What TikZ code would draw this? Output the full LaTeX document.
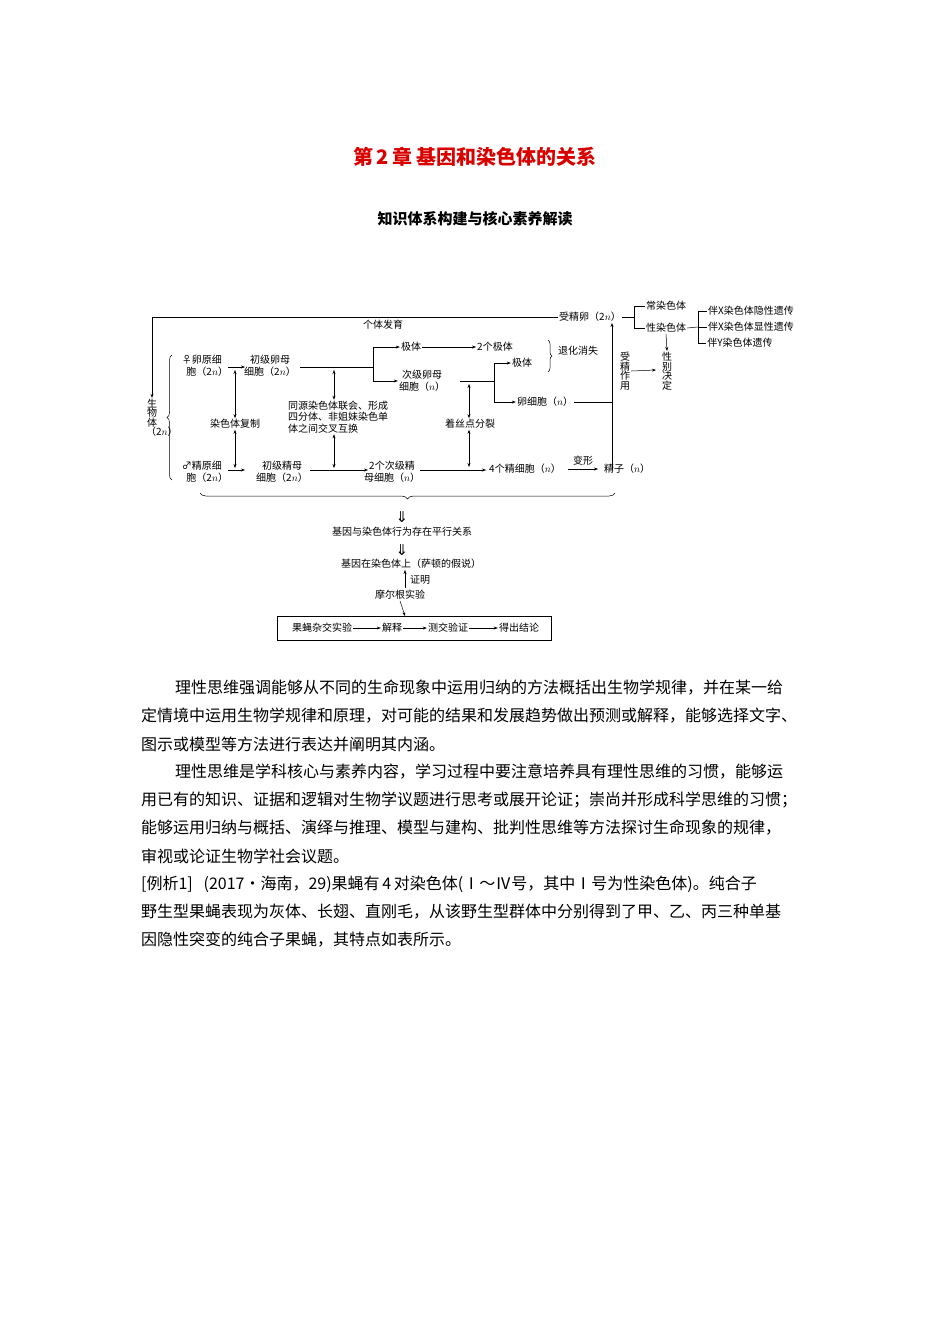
\documentclass[tikz,border=0pt]{standalone}
\usepackage{fontspec}
\setmainfont{Noto Sans CJK SC}
\newfontfamily\djv{DejaVu Sans}
\usetikzlibrary{arrows.meta,decorations.pathreplacing}
\begin{document}
\begin{tikzpicture}[x=1pt,y=-1pt,
  t/.style={font=\fontsize{10}{11.5}\selectfont,inner sep=1pt,align=center},
  body/.style={font=\fontsize{16}{18}\selectfont,anchor=west,inner sep=0pt},
  ar/.style={-{Stealth[length=4pt,width=3pt]},line width=0.5pt},
  ln/.style={line width=0.5pt},
  dar/.style={{Stealth[length=4pt,width=3pt]}-{Stealth[length=4pt,width=3pt]},line width=0.5pt}]
\useasboundingbox (0,0) rectangle (950,1344);
\node[font=\fontsize{20}{22}\selectfont\bfseries,text=red!85!black] (title) at (475,157) {第\,2\,章\ 基因和染色体的关系};
\node[font=\fontsize{15}{17}\selectfont\bfseries] (sub) at (475,219) {知识体系构建与核心素养解读};
% nodes
\node[t] (szl) at (590,317) {受精卵（2$n$）};
\node[t] (gtfy) at (383,325) {个体发育};
\node[t,text width=12pt] (swt) at (152,418) {生\\[-2pt]物\\[-2pt]体\\[-2pt]（2$n$）};
\node[t,align=left] (lyx) at (205,366) {♀卵原细\\\ \ 胞（2$n$）};
\node[t] (cjl) at (270,366) {初级卵母\\细胞（2$n$）};
\node[t] (jt1) at (411,347) {极体};
\node[t] (cjl2) at (422,381) {次级卵母\\细胞（$n$）};
\node[t] (jt2) at (495,347) {2个极体};
\node[t] (jt3) at (522,363) {极体};
\node[t] (lxb) at (545,402) {卵细胞（$n$）};
\node[t] (thxs) at (578,351) {退化消失};
\node[t,align=left] (tyr) at (338,417) {同源染色体联会、形成\\四分体、非姐妹染色单\\体之间交叉互换};
\node[t] (rsfz) at (235,424) {染色体复制};
\node[t] (zsd) at (470,424) {着丝点分裂};
\node[t,align=left] (jyx) at (205,472) {♂精原细\\\ \ 胞（2$n$）};
\node[t] (cjj) at (282,472) {初级精母\\细胞（2$n$）};
\node[t] (cjj2) at (392,472) {2个次级精\\母细胞（$n$）};
\node[t] (jxb) at (525,469) {4个精细胞（$n$）};
\node[t] (jz) at (627,469) {精子（$n$）};
\node[t] (bx) at (583,461) {变形};
\node[t,text width=10pt] (sjzy) at (625,371) {受\\[-2pt]精\\[-2pt]作\\[-2pt]用};
\node[t,text width=10pt] (xbjd) at (667,371) {性\\[-2pt]别\\[-2pt]决\\[-2pt]定};
\node[t] (crst) at (666,306) {常染色体};
\node[t] (xrst) at (666,328) {性染色体};
\node[t] (bx1) at (751,311) {伴X染色体隐性遗传};
\node[t] (bx2) at (751,327) {伴X染色体显性遗传};
\node[t] (by) at (740,343) {伴Y染色体遗传};
% top loop
\coordinate (c1) at (152,317);
\draw[ar] (szl.west) -- (szl.west-|c1) -- (swt.north);
% left brace
\draw[ln,decorate,decoration={brace,amplitude=5pt}] (172,480) -- (172,355);
% female row
\draw[ar] (228,367) -- (245,367);
\coordinate (b1) at (373,367);
\draw[ln] (300,367) -- (b1);
\draw[ar] (b1) |- (jt1.west);
\draw[ar] (b1) |- (cjl2.west);
\draw[ar] (jt1.east) -- (jt2.west);
\coordinate (b2) at (494,381);
\draw[ln] (460,381) -- (b2);
\draw[ar] (b2) |- (jt3.west);
\draw[ar] (b2) |- (lxb.west);
\draw[ln,decorate,decoration={brace,amplitude=4pt}] (548,340) -- (548,372);
\coordinate (b3) at (612,402);
\draw[ln] (lxb.east) -- (b3);
\draw[ar] (612,469) -- (612,323);
% vertical double arrows
\draw[dar] (235,370) -- (rsfz.north);
\draw[dar] (235,468) -- (rsfz.south);
\draw[dar] (334,370) -- (tyr.north-|334,0);
\draw[dar] (334,468) -- (tyr.south-|334,0);
\draw[dar] (469,384) -- (zsd.north-|469,0);
\draw[dar] (469,467) -- (zsd.south-|469,0);
% male row
\draw[ar] (228,470) -- (245,470);
\draw[ar] (310,470) -- (368,470);
\draw[ar] (420,470) -- (486,470);
\draw[ar] (568,469) -- (598,469);
% right part
\draw[ar] (sjzy.east) -- (656,370);
\draw[ln] (szl.east) -- (634,317);
\draw[ln] (crst.west) -| (634,328) -- (xrst.west);
\draw[ar] (xrst.south) -- (xbjd.north);
\draw[ln] (xrst.east) -- (698,327);
\draw[ln] (bx1.west) -| (698,343) -- (by.west);
\draw[ln] (698,327) -- (bx2.west);
% bottom brace
\draw[ln,decorate,decoration={brace,amplitude=6pt}] (615,493) -- (200,493);
\node[font=\djv\fontsize{15}{15}\selectfont,inner sep=0pt] (d1) at (402,517) {⇓};
\node[t] (pxgx) at (402,532) {基因与染色体行为存在平行关系};
\node[font=\djv\fontsize{15}{15}\selectfont,inner sep=0pt] (d2) at (402,550) {⇓};
\node[t] (sd) at (411,564) {基因在染色体上（萨顿的假说）};
\node[t] (mrg) at (400,595) {摩尔根实验};
\draw[ar] (405,588) -- (sd.south-|405,0);
\node[t] (zm) at (420,580) {证明};
\draw[ln] (277,616) rectangle (551,640);
\node[t] (g1) at (322,628) {果蝇杂交实验};
\node[t] (g2) at (392,628) {解释};
\node[t] (g3) at (448,628) {测交验证};
\node[t] (g4) at (519,628) {得出结论};
\draw[ar] (mrg.south) -- (405,616);
\draw[ar] (g1.east) -- (g2.west);
\draw[ar] (g2.east) -- (g3.west);
\draw[ar] (g3.east) -- (g4.west);
% body
\node[body] (l1) at (175,688) {理性思维强调能够从不同的生命现象中运用归纳的方法概括出生物学规律，并在某一给};
\node[body] (l2) at (141,716) {定情境中运用生物学规律和原理，对可能的结果和发展趋势做出预测或解释，能够选择文字、};
\node[body] (l3) at (141,744) {图示或模型等方法进行表达并阐明其内涵。};
\node[body] (l4) at (175,772) {理性思维是学科核心与素养内容，学习过程中要注意培养具有理性思维的习惯，能够运};
\node[body] (l5) at (141,800) {用已有的知识、证据和逻辑对生物学议题进行思考或展开论证；崇尚并形成科学思维的习惯；};
\node[body] (l6) at (141,828) {能够运用归纳与概括、演绎与推理、模型与建构、批判性思维等方法探讨生命现象的规律，};
\node[body] (l7) at (141,856) {审视或论证生物学社会议题。};
\node[body] (l8) at (141,884) {[例析1]\ \ \ (2017·海南，29)果蝇有\,4\,对染色体(Ⅰ～Ⅳ号，其中Ⅰ号为性染色体)。纯合子};
\node[body] (l9) at (141,912) {野生型果蝇表现为灰体、长翅、直刚毛，从该野生型群体中分别得到了甲、乙、丙三种单基};
\node[body] (l10) at (141,940) {因隐性突变的纯合子果蝇，其特点如表所示。};
\end{tikzpicture}
\end{document}
